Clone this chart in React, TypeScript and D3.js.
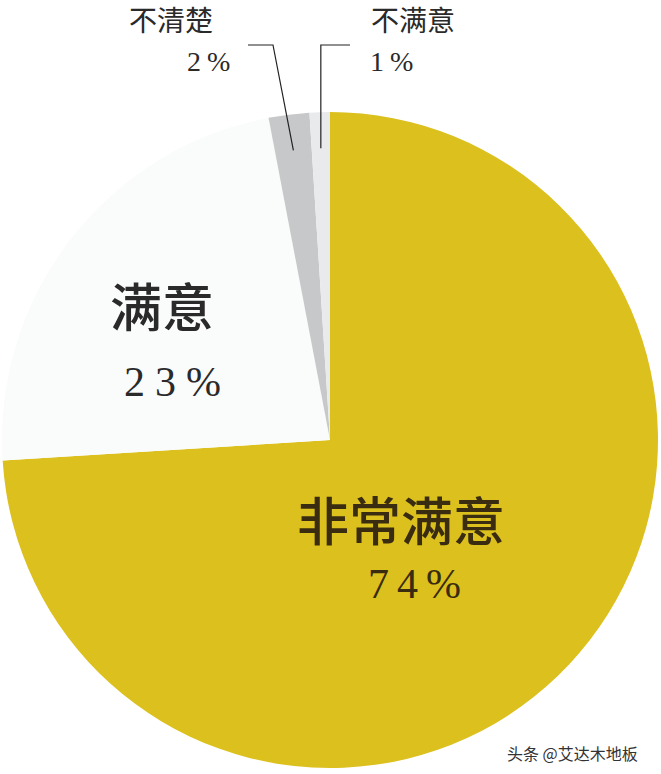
import { useMemo } from 'react';
import * as d3 from 'd3';

const categories = ['非常满意', '满意', '不清楚', '不满意'];
const values = [74, 23, 2, 1];
const pctLabels = ['74%', '23%', '2%', '1%'];
const colors = ['#dcc01d', '#fafbfb', '#c6c8c9', '#e9eaeb'];

const W = 661;
const H = 774;
const cx = 330;
const cy = 440;
const R = 328;

const cjk = '"Noto Sans CJK SC", "Noto Sans", sans-serif';
const serif = '"Liberation Serif", "DejaVu Serif", serif';

export default function App() {
  const slices = useMemo(
    () => d3.pie<number>().sort(null).startAngle(0).endAngle(2 * Math.PI)(values),
    []
  );
  const arc = d3.arc<d3.PieArcDatum<number>>().innerRadius(0).outerRadius(R);
  // point inside the slice where a leader line ends
  const tip = (s: d3.PieArcDatum<number>, r: number) => {
    const a = (s.startAngle + s.endAngle) / 2;
    return [cx + r * Math.sin(a), cy - r * Math.cos(a)];
  };
  const [gx, gy] = tip(slices[2], 292);
  const [lx, ly] = tip(slices[3], 292);

  return (
    <svg width={W} height={H} viewBox={`0 0 ${W} ${H}`} style={{ position: 'absolute', left: 0, top: 0, background: '#fff' }}>
      <g transform={`translate(${cx},${cy})`}>
        {slices.map((s, i) => (
          <path key={categories[i]} d={arc(s) ?? ''} fill={colors[i]} />
        ))}
      </g>

      {/* leader lines */}
      <polyline points={`248,45 273,45 ${gx},${gy}`} fill="none" stroke="#222" strokeWidth={1.2} />
      <polyline points={`350,45 ${lx},45 ${lx},${ly}`} fill="none" stroke="#222" strokeWidth={1.2} />

      {/* small labels */}
      <text x={129} y={31} fontFamily={cjk} fontSize={28} fill="#2a2a2a">{categories[2]}</text>
      <text x={187} y={71} fontFamily={serif} fontSize={28} fill="#2a2a2a" letterSpacing={6}>{pctLabels[2]}</text>
      <text x={371} y={31} fontFamily={cjk} fontSize={28} fill="#2a2a2a">{categories[3]}</text>
      <text x={370} y={71} fontFamily={serif} fontSize={28} fill="#2a2a2a" letterSpacing={6}>{pctLabels[3]}</text>

      {/* 满意 */}
      <text x={110} y={327} fontFamily={cjk} fontSize={52} fontWeight={500} fill="#2a2a2a">{categories[1]}</text>
      <text x={124} y={396} fontFamily={serif} fontSize={42} fill="#2a2a2a" letterSpacing={10}>{pctLabels[1]}</text>

      {/* 非常满意 */}
      <text x={297} y={541} fontFamily={cjk} fontSize={52} fontWeight={500} fill="#3a2c10">{categories[0]}</text>
      <text x={368} y={598} fontFamily={serif} fontSize={42} fill="#3a2c10" letterSpacing={8}>{pctLabels[0]}</text>

      <text x={507} y={760} fontFamily={cjk} fontSize={16} fill="#333">头条 @艾达木地板</text>
    </svg>
  );
}
